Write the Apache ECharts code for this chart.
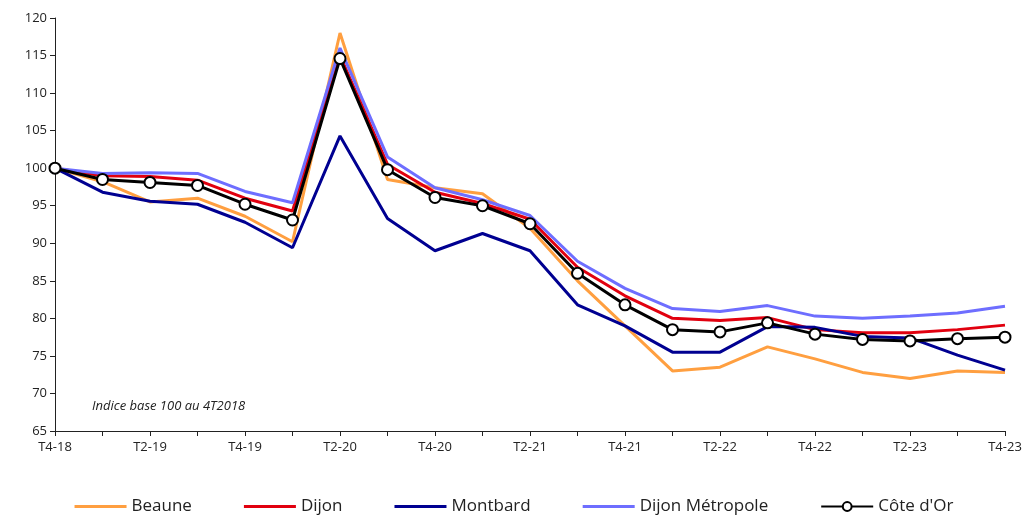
<!DOCTYPE html>
<html><head><meta charset="utf-8">
<script src="https://cdn.jsdelivr.net/npm/echarts@6/dist/echarts.min.js"></script>
<style>html,body{margin:0;background:#fff}#c{width:1028px;height:517px}</style>
</head><body><div id="c"></div>
<script>
var categories = ['T4-18','T1-19','T2-19','T3-19','T4-19','T1-20','T2-20','T3-20','T4-20','T1-21','T2-21','T3-21','T4-21','T1-22','T2-22','T3-22','T4-22','T1-23','T2-23','T3-23','T4-23'];
var beaune = [100,98.2,95.5,96.0,93.6,90.2,118,98.5,97.4,96.6,92.0,85.0,79.0,73.0,73.5,76.2,74.6,72.8,72.0,73.0,72.8];
var dijon = [100,99.0,98.9,98.4,96.0,94.3,115.0,100.5,96.8,95.3,93.2,86.8,83.0,80.0,79.7,80.1,78.5,78.1,78.1,78.5,79.1];
var montbard = [100,96.8,95.6,95.2,92.8,89.4,104.3,93.3,89.0,91.3,89.0,81.8,79.0,75.5,75.5,78.9,78.8,77.6,77.4,75.1,73.1];
var metropole = [100,99.3,99.4,99.3,96.9,95.4,116,101.5,97.4,95.8,93.7,87.6,84.0,81.3,80.9,81.7,80.3,80.0,80.3,80.7,81.6];
var coteOr = [100,98.5,98.1,97.7,95.2,93.1,114.6,99.8,96.1,95.0,92.6,86.0,81.8,78.5,78.2,79.4,77.9,77.2,77.0,77.3,77.5];

var font = '"Open Sans", sans-serif';
function line(name, data, color){
  return {name:name,type:'line',data:data,symbol:'none',lineStyle:{width:3,color:color},itemStyle:{color:color}};
}
var bar = 'path://M0,0H50V3H0Z';
var chart = echarts.init(document.getElementById('c'));
chart.setOption({
  animation:false,
  grid:{left:55,right:23,top:18,bottom:86},
  legend:{bottom:-3,left:'center',itemGap:52,itemWidth:52,itemHeight:11,
    textStyle:{fontFamily:font,fontSize:17,color:'#222'},
    data:[{name:'Beaune',icon:bar},{name:'Dijon',icon:bar},{name:'Montbard',icon:bar},{name:'Dijon Métropole',icon:bar},{name:"Côte d'Or"}]},
  graphic:[{type:'text',left:92,top:400,style:{text:'Indice base 100 au 4T2018',font:'italic 13px '+font,fill:'#222'}}],
  xAxis:{type:'category',data:categories,boundaryGap:false,
    axisLine:{lineStyle:{color:'#222'}},axisTick:{interval:0,lineStyle:{color:'#222'}},
    axisLabel:{interval:1,color:'#222',fontFamily:font,fontSize:13,margin:10}},
  yAxis:{type:'value',min:65,max:120,interval:5,
    axisLine:{show:true,lineStyle:{color:'#222'}},axisTick:{show:true,lineStyle:{color:'#222'}},
    splitLine:{show:false},
    axisLabel:{color:'#222',fontFamily:font,fontSize:13}},
  series:[
    line('Beaune',beaune,'#FF9F40'),
    line('Dijon',dijon,'#E1000F'),
    line('Montbard',montbard,'#000091'),
    line('Dijon Métropole',metropole,'#6E6EFF'),
    {name:"Côte d'Or",type:'line',data:coteOr,symbol:'circle',symbolSize:11,
     lineStyle:{width:3,color:'#000'},itemStyle:{color:'#fff',borderColor:'#000',borderWidth:2}}
  ]
});
</script></body></html>
